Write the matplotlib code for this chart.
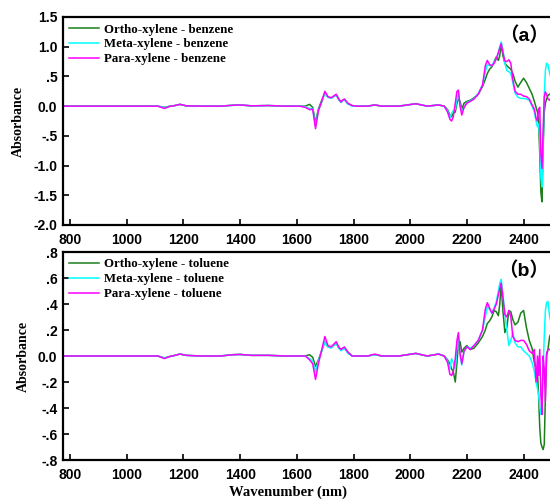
import matplotlib
matplotlib.use("Agg")
import matplotlib.pyplot as plt
from matplotlib.ticker import FixedLocator, FixedFormatter

# wavelength grid (nm), denser where the spectra change quickly
wl = [
    775, 850, 950, 1050, 1110, 1133, 1150, 1170, 1188, 1210, 1260, 1330, 1375, 1400, 1440, 1500, 1560, 1610,
    1630, 1645, 1656, 1666, 1676, 1688, 1699, 1710, 1721, 1730, 1739, 1748, 1756, 1762, 1768, 1780, 1795, 1810, 1850, 1875, 1900,
    1960, 2020, 2060, 2100, 2120, 2132, 2140, 2146, 2152, 2159, 2165, 2170, 2176, 2182, 2190, 2200, 2212, 2225, 2240, 2255,
    2265, 2272, 2280, 2288, 2296, 2304, 2311, 2316, 2321, 2327, 2334, 2341, 2348, 2355, 2362, 2370, 2380, 2390, 2400, 2410, 2420, 2430, 2438,
    2444, 2449, 2453, 2457, 2461, 2465, 2469, 2473, 2477, 2481, 2486, 2492, 2498,
]

# (a) difference spectra against benzene
ortho_benzene = [
    0, 0, 0, 0, 0, -0.02, -0.005, 0.01, 0.03, 0.005, 0, 0, 0.015, 0.02, 0.005, 0.01, 0, 0,
    0.0, 0.03, -0.02, -0.28, -0.05, 0.1, 0.22, 0.15, 0.14, 0.16, 0.19, 0.11, 0.07, 0.1, 0.11, 0.04, 0.01, 0.0, 0.0, 0.02, 0.0,
    0.0, 0.04, 0.0, 0.02, 0.0, -0.06, -0.15, -0.18, -0.12, -0.1, 0.05, 0.12, 0.08, -0.05, 0.05, 0.08, 0.1, 0.14, 0.2, 0.33,
    0.45, 0.55, 0.62, 0.66, 0.75, 0.83, 0.77, 0.85, 1.05, 0.85, 0.72, 0.68, 0.65, 0.62, 0.55, 0.42, 0.32, 0.4, 0.47, 0.4, 0.3, 0.2, 0.08,
    -0.02, -0.1, -0.25, -0.8, -1.45, -1.61, -0.7, -0.1, 0.05, 0.12, 0.18, 0.2, 0.22,
]
meta_benzene = [
    0, 0, 0, 0, 0, -0.025, -0.005, 0.01, 0.03, 0.005, 0, 0, 0.015, 0.02, 0.005, 0.01, 0, 0,
    -0.01, -0.04, -0.04, -0.33, -0.07, 0.07, 0.22, 0.15, 0.13, 0.16, 0.19, 0.11, 0.06, 0.09, 0.11, 0.04, 0.0, 0.0, 0.0, 0.02, 0.0,
    0.0, 0.04, 0.0, 0.02, 0.0, -0.08, -0.2, -0.12, -0.08, -0.05, 0.12, 0.2, 0.02, -0.08, -0.03, 0.06, 0.09, 0.13, 0.21, 0.36,
    0.58, 0.7, 0.68, 0.68, 0.74, 0.8, 0.9, 1.0, 1.08, 0.95, 0.72, 0.6, 0.58, 0.55, 0.4, 0.22, 0.15, 0.13, 0.13, 0.12, 0.1, 0.0, -0.1,
    -0.25, -0.35, -0.3, -0.5, -1.2, -1.36, -0.6, 0.2, 0.6, 0.72, 0.7, 0.55, 0.45,
]
para_benzene = [
    0, 0, 0, 0, 0, -0.04, -0.005, 0.01, 0.03, 0.005, 0, 0, 0.015, 0.02, 0.005, 0.01, 0, 0,
    -0.02, -0.06, -0.05, -0.38, -0.08, 0.08, 0.25, 0.16, 0.14, 0.17, 0.2, 0.12, 0.07, 0.1, 0.12, 0.05, 0.01, 0.0, 0.0, 0.02, 0.0,
    0.0, 0.04, 0.0, 0.02, 0.0, -0.1, -0.22, -0.25, -0.18, 0.05, 0.25, 0.27, 0.0, -0.15, -0.02, 0.05, 0.08, 0.12, 0.2, 0.35,
    0.68, 0.77, 0.7, 0.68, 0.72, 0.8, 0.9, 0.98, 1.05, 0.9, 0.76, 0.75, 0.78, 0.72, 0.45, 0.25, 0.2, 0.2, 0.17, 0.16, 0.12, 0.02, -0.05,
    -0.2, -0.25, -0.05, -0.02, -0.8, -1.05, -0.4, 0.15, 0.24, 0.2, 0.12, 0.1, 0.15,
]

# (b) difference spectra against toluene
ortho_toluene = [
    0, 0, 0, 0, 0, -0.015, -0.005, 0.005, 0.015, 0.005, 0, 0, 0.01, 0.012, 0.005, 0.005, 0, 0,
    0.0, 0.01, -0.01, -0.08, -0.03, 0.04, 0.11, 0.07, 0.07, 0.08, 0.1, 0.06, 0.05, 0.06, 0.06, 0.03, 0.0, 0.0, 0.0, 0.01, 0.0,
    0.0, 0.02, 0.0, 0.015, 0.0, -0.03, -0.06, -0.1, -0.12, -0.2, -0.05, 0.1, 0.11, 0.03, 0.06, 0.08, 0.05, 0.06, 0.1, 0.15,
    0.2, 0.25, 0.27, 0.3, 0.35, 0.34, 0.31, 0.4, 0.56, 0.35, 0.18, 0.22, 0.35, 0.34, 0.28, 0.24, 0.26, 0.33, 0.35, 0.22, 0.12, 0.06, -0.05,
    -0.1, -0.13, -0.3, -0.55, -0.67, -0.7, -0.72, -0.68, -0.3, 0.0, 0.05, 0.15, 0.18,
]
meta_toluene = [
    0, 0, 0, 0, 0, -0.015, -0.005, 0.005, 0.015, 0.005, 0, 0, 0.01, 0.012, 0.005, 0.005, 0, 0,
    0.0, -0.02, -0.04, -0.12, -0.04, 0.04, 0.11, 0.07, 0.06, 0.08, 0.1, 0.06, 0.04, 0.05, 0.06, 0.02, 0.0, 0.0, 0.0, 0.01, 0.0,
    0.0, 0.02, 0.0, 0.015, 0.0, -0.04, -0.1, -0.02, -0.05, -0.1, 0.08, 0.14, 0.0, -0.07, 0.03, 0.07, 0.06, 0.08, 0.12, 0.2,
    0.3, 0.38, 0.36, 0.33, 0.37, 0.42, 0.5, 0.56, 0.59, 0.48, 0.32, 0.2, 0.08, 0.12, 0.18, 0.1, 0.07, 0.07, 0.04, 0.02, 0.0, -0.05, -0.12,
    -0.2, -0.25, -0.3, -0.38, -0.45, -0.4, -0.1, 0.15, 0.35, 0.41, 0.42, 0.3, 0.25,
]
para_toluene = [
    0, 0, 0, 0, 0, -0.02, -0.005, 0.005, 0.015, 0.005, 0, 0, 0.01, 0.012, 0.005, 0.005, 0, 0,
    0.0, -0.03, -0.06, -0.18, -0.06, 0.05, 0.15, 0.08, 0.07, 0.09, 0.11, 0.07, 0.05, 0.06, 0.07, 0.03, 0.0, 0.0, 0.0, 0.015, 0.0,
    0.0, 0.02, 0.0, 0.015, 0.0, -0.05, -0.14, -0.15, -0.12, -0.02, 0.12, 0.18, 0.02, -0.06, 0.04, 0.07, 0.05, 0.08, 0.12, 0.2,
    0.36, 0.41, 0.37, 0.33, 0.36, 0.4, 0.47, 0.52, 0.56, 0.45, 0.32, 0.3, 0.35, 0.3, 0.15, 0.12, 0.11, 0.12, 0.12, 0.09, 0.04, 0.02, 0.05,
    -0.2, 0.0, -0.15, 0.05, -0.3, -0.45, 0.0, -0.1, -0.35, 0.02, 0.05, 0.05, 0.06,
]

x_ticks = [800, 1000, 1200, 1400, 1600, 1800, 2000, 2200, 2400]
a_yticks = [1.5, 1.0, 0.5, 0.0, -0.5, -1.0, -1.5, -2.0]
a_ylabels = ["1.5", "1.0", ".5", "0.0", "-.5", "-1.0", "-1.5", "-2.0"]
b_yticks = [0.8, 0.6, 0.4, 0.2, 0.0, -0.2, -0.4, -0.6, -0.8]
b_ylabels = [".8", ".6", ".4", ".2", "0.0", "-.2", "-.4", "-.6", "-.8"]

colors = ["#1b7f1b", "#00ffff", "#ff00ff"]
serif = "Liberation Serif"
sans = "Liberation Sans"

fig = plt.figure(figsize=(5.5, 5.0), dpi=100)
ax_a = fig.add_axes([0.1145, 0.55, 0.889, 0.416])
ax_b = fig.add_axes([0.1145, 0.08, 0.889, 0.416])


def draw_panel(ax, series, names, yticks, ylabels, ylim, tag):
    for y, name, c in zip(series, names, colors):
        ax.plot(wl, y, color=c, lw=1.1, label=name)
    ax.set_xlim(775, 2500)
    ax.set_ylim(*ylim)
    ax.xaxis.set_major_locator(FixedLocator(x_ticks))
    ax.yaxis.set_major_locator(FixedLocator(yticks))
    ax.yaxis.set_major_formatter(FixedFormatter(ylabels))
    ax.tick_params(direction="in", length=4, width=1.2)
    ax.tick_params(axis="x", pad=6)
    ax.tick_params(axis="y", pad=4)
    for lab in ax.get_xticklabels() + ax.get_yticklabels():
        lab.set_fontfamily(sans)
        lab.set_fontweight("bold")
        lab.set_fontsize(10)
    for s in ax.spines.values():
        s.set_linewidth(1.6)
    ax.set_ylabel("Absorbance", family=serif, weight="bold", fontsize=10, labelpad=6)
    ax.legend(loc="upper left", frameon=False, handlelength=2.3, handletextpad=0.35,
              labelspacing=0.22, borderaxespad=0.1,
              prop={"family": serif, "weight": "bold", "size": 9.3})
    ax.text(0.994, 0.955, "（" + tag + "）", transform=ax.transAxes, ha="right", va="top",
            family=[sans, "Noto Sans CJK SC"], weight="bold", fontsize=14)


draw_panel(ax_a, [ortho_benzene, meta_benzene, para_benzene],
           ["Ortho-xylene - benzene", "Meta-xylene - benzene", "Para-xylene - benzene"],
           a_yticks, a_ylabels, (-2.0, 1.5), "a")
draw_panel(ax_b, [ortho_toluene, meta_toluene, para_toluene],
           ["Ortho-xylene - toluene", "Meta-xylene - toluene", "Para-xylene - toluene"],
           b_yticks, b_ylabels, (-0.8, 0.8), "b")

ax_b.set_xlabel("Wavenumber (nm)", family=serif, weight="bold", fontsize=10.5)
ax_b.xaxis.set_label_coords(0.46, -0.125)

fig.savefig("out.png", dpi=100)
